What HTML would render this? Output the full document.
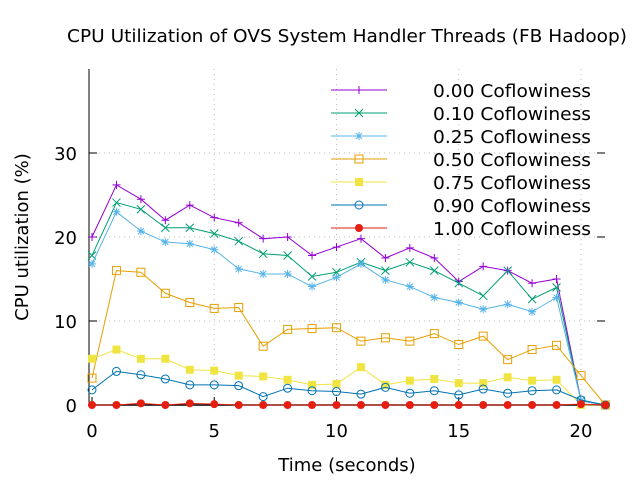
<!DOCTYPE html>
<html><head><meta charset="utf-8"><style>
body{margin:0;background:#fff}
svg text{font-family:"DejaVu Sans","Liberation Sans",sans-serif;fill:#000}
</style></head><body>
<svg id="c" width="640" height="480" xmlns="http://www.w3.org/2000/svg"></svg>
<script>
const xTicks=[0,5,10,15,20];
const yTicks=[0,10,20,30];
const times=[0,1,2,3,4,5,6,7,8,9,10,11,12,13,14,15,16,17,18,19,20,21];
const s000=[20.0,26.2,24.5,22.0,23.8,22.3,21.7,19.8,20.0,17.8,18.8,19.8,17.5,18.7,17.5,14.7,16.5,16.0,14.5,15.0,0.5,0];
const s010=[17.8,24.1,23.3,21.1,21.1,20.4,19.5,18.0,17.8,15.3,15.8,17.0,16.0,17.0,16.0,14.5,13.0,16.0,12.6,14.0,0.5,0];
const s025=[16.8,23.0,20.7,19.4,19.2,18.5,16.2,15.6,15.6,14.1,15.2,16.8,14.9,14.1,12.8,12.2,11.4,12.0,11.1,12.8,0.5,0];
const s050=[3.2,16.0,15.8,13.3,12.2,11.5,11.6,7.0,9.0,9.1,9.2,7.6,8.0,7.6,8.5,7.2,8.2,5.4,6.6,7.1,3.5,0];
const s075=[5.5,6.6,5.5,5.5,4.2,4.1,3.5,3.4,3.0,2.4,2.5,4.5,2.4,2.9,3.1,2.6,2.6,3.3,2.9,3.0,0,0];
const s090=[1.8,4.0,3.6,3.1,2.4,2.4,2.3,1.0,2.0,1.7,1.6,1.3,2.1,1.4,1.7,1.2,1.9,1.4,1.7,1.8,0.6,0];
const s100=[0,0,0.2,0,0.2,0.1,0,0,0,0,0,0,0,0,0,0,0,0,0,0,0.1,0];
const labels=["0.00 Coflowiness","0.10 Coflowiness","0.25 Coflowiness","0.50 Coflowiness","0.75 Coflowiness","0.90 Coflowiness","1.00 Coflowiness"];

const NS="http://www.w3.org/2000/svg";
const svg=document.getElementById('c');
const X=v=>92+v*24.45, Y=v=>405-v*8.4;
function mk(t,a,p){const e=document.createElementNS(NS,t);for(const k in a)e.setAttribute(k,a[k]);(p||svg).appendChild(e);return e;}
function tx(x,y,s,anchor,name,extra){const e=mk('text',Object.assign({x:x,y:y,'font-size':18,'text-anchor':anchor},extra||{}));e.textContent=s;return e;}

xTicks.forEach(v=>{if(v>0){const l=mk('line',{x1:X(v),x2:X(v),y1:69,y2:405,stroke:'#bbb','stroke-dasharray':'1,4'});}});
yTicks.forEach(v=>{if(v>0){const l=mk('line',{x1:89,x2:605,y1:Y(v),y2:Y(v),stroke:'#bbb','stroke-dasharray':'1,4'});}});
let a=mk('line',{x1:89,x2:89,y1:69,y2:406,stroke:'#000'});
a=mk('line',{x1:88,x2:605,y1:405,y2:405,stroke:'#000','stroke-width':1.5});
xTicks.forEach(v=>{mk('line',{x1:X(v),x2:X(v),y1:405,y2:397,stroke:'#000'});tx(X(v),437,String(v),'middle','x-tick-label');});
yTicks.forEach(v=>{mk('line',{x1:89,x2:97,y1:Y(v),y2:Y(v),stroke:'#000'});mk('line',{x1:597,x2:605,y1:Y(v),y2:Y(v),stroke:'#000'});tx(77,Y(v)+7,String(v),'end','y-tick-label');});
tx(347,42,'CPU Utilization of OVS System Handler Threads (FB Hadoop)','middle','chart-title',{textLength:560,lengthAdjust:'spacingAndGlyphs'});
tx(347,471,'Time (seconds)','middle','x-axis-title');
tx(28,237,'CPU utilization (%)','middle','y-axis-title',{transform:'rotate(-90 28 237)'});

const series=[s000,s010,s025,s050,s075,s090,s100];
const colors=['#9400d3','#009e73','#56b4e9','#e69f00','#f0e442','#0072b2','#e51e10'];
function marker(i,x,y,g){const c=colors[i];
 if(i==0){mk('path',{d:`M${x-4} ${y}h8M${x} ${y-4}v8`,stroke:c,fill:'none'},g);}
 else if(i==1){mk('path',{d:`M${x-4} ${y-4}l8 8M${x-4} ${y+4}l8 -8`,stroke:c,fill:'none'},g);}
 else if(i==2){mk('path',{d:`M${x-4} ${y}h8M${x} ${y-4}v8M${x-3} ${y-3}l6 6M${x-3} ${y+3}l6 -6`,stroke:c,fill:'none'},g);}
 else if(i==3){mk('rect',{x:x-4,y:y-4,width:8,height:8,stroke:c,fill:'none'},g);}
 else if(i==4){mk('rect',{x:x-4,y:y-4,width:8,height:8,fill:c},g);}
 else if(i==5){mk('circle',{cx:x,cy:y,r:4,stroke:c,fill:'none'},g);}
 else {mk('circle',{cx:x,cy:y,r:4,fill:c},g);}
}
series.forEach((s,i)=>{
 const g=mk('g',{});
 
 
 mk('polyline',{points:s.map((v,k)=>X(times[k])+','+Y(v)).join(' '),fill:'none',stroke:colors[i]},g);
 s.forEach((v,k)=>marker(i,X(times[k]),Y(v),g));
 const ly=90+i*23;
 const lg=mk('g',{},svg);
 
 
 mk('line',{x1:331,x2:387,y1:ly,y2:ly,stroke:colors[i]},lg);
 marker(i,359,ly,lg);
 const t=mk('text',{x:591,y:ly+7,'font-size':18,'text-anchor':'end',textLength:158,lengthAdjust:'spacingAndGlyphs'},lg);t.textContent=labels[i];
});
</script>
</body></html>
